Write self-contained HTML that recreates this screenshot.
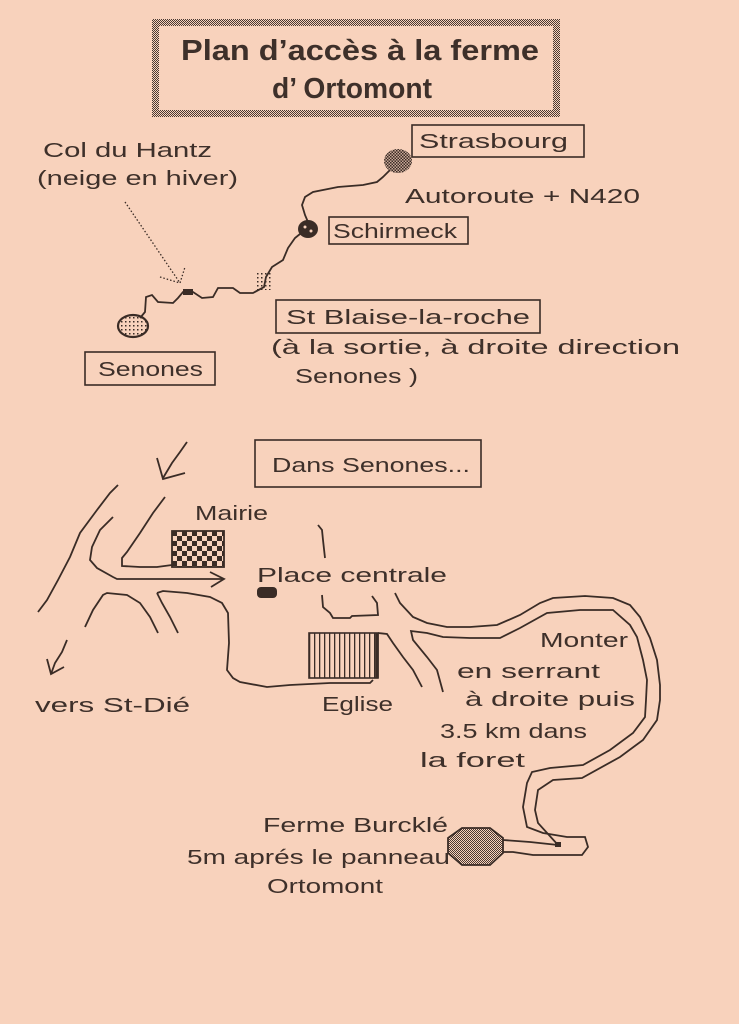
<!DOCTYPE html>
<html>
<head>
<meta charset="utf-8">
<style>
  html,body{margin:0;padding:0;background:#f8d2bc;}
  svg{display:block;}
  text{font-family:"Liberation Sans",sans-serif;fill:#3e302a;}
</style>
</head>
<body>
<svg width="739" height="1024" viewBox="0 0 739 1024" xmlns="http://www.w3.org/2000/svg">
  <defs>
    <pattern id="chk1" width="2" height="2" patternUnits="userSpaceOnUse">
      <rect x="0" y="0" width="1" height="1" fill="#4a3a33"/>
      <rect x="1" y="1" width="1" height="1" fill="#4a3a33"/>
    </pattern>
    <pattern id="chk5" x="172" y="531" width="10" height="10" patternUnits="userSpaceOnUse">
      <rect x="0" y="0" width="5" height="5" fill="#3a2c26"/>
      <rect x="5" y="5" width="5" height="5" fill="#3a2c26"/>
    </pattern>
    <pattern id="chk3" width="3" height="3" patternUnits="userSpaceOnUse">
      <rect x="0" y="0" width="1.5" height="1.5" fill="#3a2c26"/>
      <rect x="1.5" y="1.5" width="1.5" height="1.5" fill="#3a2c26"/>
    </pattern>
    <pattern id="dots" width="4" height="4" patternUnits="userSpaceOnUse">
      <rect x="1" y="1" width="1.5" height="1.5" fill="#3a2c26"/>
    </pattern>
    <pattern id="stripes" x="309" y="633" width="5" height="10" patternUnits="userSpaceOnUse">
      <rect x="0" y="0" width="1.3" height="10" fill="#3a2c26"/>
    </pattern>
  </defs>

  <rect width="739" height="1024" fill="#f8d2bc"/>

  <!-- Title -->
  <rect x="155.5" y="22.5" width="401" height="91" fill="none" stroke="url(#chk1)" stroke-width="7"/>
  <text x="181" y="60" font-size="29" font-weight="bold" textLength="358" lengthAdjust="spacingAndGlyphs">Plan d’accès à la ferme</text>
  <text x="272" y="98" font-size="29" font-weight="bold" textLength="160" lengthAdjust="spacingAndGlyphs">d’ Ortomont</text>

  <g fill="none" stroke="#3a2c26" stroke-width="1.6">
    <!-- boxes -->
    <rect x="412" y="125" width="172" height="32"/>
    <rect x="329" y="217" width="139" height="27"/>
    <rect x="276" y="300" width="264" height="33"/>
    <rect x="85" y="352" width="130" height="33"/>
    <rect x="255" y="440" width="226" height="47"/>
  </g>

  <!-- Top labels -->
  <g font-size="20">
    <text x="43" y="157" textLength="169" lengthAdjust="spacingAndGlyphs">Col du Hantz</text>
    <text x="37" y="185" textLength="201" lengthAdjust="spacingAndGlyphs">(neige en hiver)</text>
    <text x="419" y="148" textLength="149" lengthAdjust="spacingAndGlyphs">Strasbourg</text>
    <text x="405" y="203" textLength="235" lengthAdjust="spacingAndGlyphs">Autoroute + N420</text>
    <text x="333" y="238" textLength="124" lengthAdjust="spacingAndGlyphs">Schirmeck</text>
    <text x="286" y="324" textLength="244" lengthAdjust="spacingAndGlyphs">St Blaise-la-roche</text>
    <text x="271" y="354" textLength="409" lengthAdjust="spacingAndGlyphs">(à la sortie, à droite direction</text>
    <text x="295" y="383" textLength="123" lengthAdjust="spacingAndGlyphs">Senones )</text>
    <text x="98" y="376" textLength="105" lengthAdjust="spacingAndGlyphs">Senones</text>
    <text x="272" y="472" textLength="198" lengthAdjust="spacingAndGlyphs">Dans Senones...</text>
  </g>

  <!-- Top road -->
  <polyline fill="none" stroke="#3a2c26" stroke-width="1.8" points="390,170 383,177 377,182 363,185 338,187 313,192 305,197 302,205 305,215 308,222"/>
  <polyline fill="none" stroke="#3a2c26" stroke-width="1.8" points="300,234 295,238 288,248 283,260 272,267 266,277 264,287 253,293 240,293 233,288 218,288 213,297 202,298 193,292 183,292 178,298 173,303 158,302 152,295 146,297 145,312 140,318"/>
  <rect x="183" y="289" width="10" height="6" fill="#3a2c26"/>
  <!-- Strasbourg blob -->
  <ellipse cx="398" cy="161" rx="14" ry="12" fill="url(#chk3)"/>
  <ellipse cx="398" cy="161" rx="14" ry="12" fill="#3a2c26" opacity="0.25"/>
  <!-- Schirmeck dot -->
  <ellipse cx="308" cy="229" rx="10" ry="9" fill="#3a2c26"/>
  <circle cx="305" cy="227" r="1.5" fill="#f8d2bc"/>
  <circle cx="311" cy="231" r="1.5" fill="#f8d2bc"/>
  <!-- St Blaise dotted patch -->
  <rect x="256" y="272" width="16" height="18" fill="url(#dots)"/>
  <!-- Senones blob -->
  <ellipse cx="133" cy="326" rx="15" ry="11" fill="url(#dots)" stroke="#3a2c26" stroke-width="2.2"/>
  <!-- dotted arrow -->
  <g fill="none" stroke="#3a2c26" stroke-width="1.3" stroke-dasharray="1.5 2">
    <line x1="125" y1="202" x2="180" y2="283"/>
    <polyline points="160,277 180,283 185,267"/>
  </g>

  <!-- Bottom map lines -->
  <g fill="none" stroke="#3a2c26" stroke-width="1.8" stroke-linejoin="miter">
    <!-- top arrow -->
    <polyline points="187,442 180,452 172,463 163,478"/>
    <polyline points="157,458 163,479 185,473"/>
    <!-- line A -->
    <polyline points="118,485 110,493 97,510 80,533 70,557 58,580 47,600 38,612"/>
    <!-- line B with arrow -->
    <polyline points="113,517 100,530 92,547 90,560 97,568 113,577 117,579 224,579"/>
    <polyline points="210,572 224,579 211,587"/>
    <!-- line C -->
    <polyline points="165,497 153,513 140,533 127,552 122,558 122,566 140,567 157,567 172,565"/>
    <!-- line D -->
    <polyline points="85,627 93,610 103,595 107,593 127,595 140,603 150,617 158,633"/>
    <!-- line E down branch -->
    <polyline points="157,593 162,603 170,617 178,633"/>
    <!-- line E road -->
    <polyline points="157,593 163,591 187,593 210,597 222,603 228,613 229,643 227,670 233,678 240,682 267,687 290,685 330,683 370,683 373,680"/>
    <!-- down-left arrow -->
    <polyline points="67,640 62,652 55,663 51,674"/>
    <polyline points="47,659 51,674 64,667"/>
    <!-- bracket F -->
    <polyline points="318,525 322,530 323,540 325,558"/>
    <!-- bracket G -->
    <polyline points="322,595 323,607 330,613 333,618 350,618 352,616 378,615 377,603 372,596"/>
    <!-- line H -->
    <polyline points="378,633 387,634 393,643 403,657 413,670 422,687"/>
    <!-- big loop outer -->
    <polyline points="395,593 400,603 413,617 427,623 447,627 470,627 497,625 520,615 540,603 553,598 585,596 613,598 630,605 640,617 650,638 657,660 660,685 660,700 657,720 643,740 620,757 582,778 553,780 538,790 535,810 538,823 558,845"/>
    <!-- big loop inner -->
    <polyline points="443,692 437,670 427,657 413,640 411,631 427,633 443,637 470,638 500,638 520,628 547,613 580,610 613,610 630,625 637,637 643,660 647,680 646,700 645,717 633,733 610,750 583,765 550,768 532,772 527,783 523,807 527,827 543,833 567,837 585,837 588,847 582,855 533,855 513,852 503,852"/>
    <!-- back line from arrow end -->
    <polyline points="558,845 530,842 503,840"/>
  </g>
  <rect x="555" y="842" width="6" height="5" fill="#3a2c26"/>

  <!-- Mairie -->
  <rect x="172" y="531" width="52" height="36" fill="url(#chk5)" stroke="#3a2c26" stroke-width="1.8"/>
  <!-- Place dot -->
  <rect x="257" y="587" width="20" height="11" rx="4" fill="#3a2c26"/>
  <!-- Eglise -->
  <rect x="309" y="633" width="69" height="45" fill="url(#stripes)" stroke="#3a2c26" stroke-width="1.6"/>
  <line x1="377" y1="633" x2="377" y2="678" stroke="#3a2c26" stroke-width="3.5"/>
  <!-- Farm blob -->
  <polygon points="462,828 490,828 503,838 503,853 490,865 462,865 448,853 448,838" fill="url(#chk1)" stroke="#3a2c26" stroke-width="1.8"/>

  <!-- Bottom labels -->
  <g font-size="20">
    <text x="195" y="520" textLength="73" lengthAdjust="spacingAndGlyphs">Mairie</text>
    <text x="257" y="582" textLength="190" lengthAdjust="spacingAndGlyphs">Place centrale</text>
    <text x="322" y="711" textLength="71" lengthAdjust="spacingAndGlyphs">Eglise</text>
    <text x="35" y="712" textLength="155" lengthAdjust="spacingAndGlyphs">vers St-Dié</text>
    <text x="540" y="647" textLength="88" lengthAdjust="spacingAndGlyphs">Monter</text>
    <text x="457" y="678" textLength="143" lengthAdjust="spacingAndGlyphs">en serrant</text>
    <text x="465" y="706" textLength="170" lengthAdjust="spacingAndGlyphs">à droite puis</text>
    <text x="440" y="738" textLength="147" lengthAdjust="spacingAndGlyphs">3.5 km dans</text>
    <text x="420" y="767" textLength="105" lengthAdjust="spacingAndGlyphs">la foret</text>
    <text x="263" y="832" textLength="185" lengthAdjust="spacingAndGlyphs">Ferme Burcklé</text>
    <text x="187" y="864" textLength="263" lengthAdjust="spacingAndGlyphs">5m aprés le panneau</text>
    <text x="267" y="893" textLength="116" lengthAdjust="spacingAndGlyphs">Ortomont</text>
  </g>
</svg>
</body>
</html>
